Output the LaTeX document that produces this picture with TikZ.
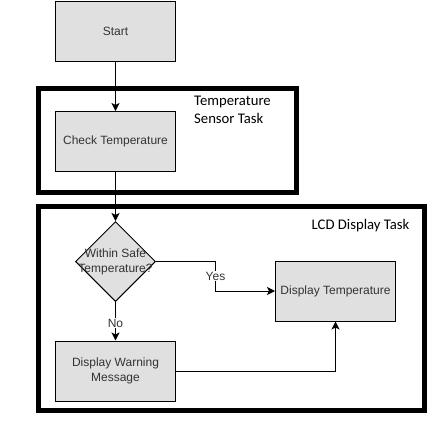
\documentclass[tikz,border=0pt]{standalone}
\usepackage{fontspec}
\setmainfont{Liberation Sans}
\newfontfamily\calibrifont{Carlito}
\usetikzlibrary{shapes.geometric,arrows.meta,positioning}

\definecolor{boxfill}{HTML}{E0E0E0}
\definecolor{boxtext}{HTML}{333333}

\begin{document}
\begin{tikzpicture}[x=1pt,y=-1pt,
        box/.style = {draw, fill=boxfill, text=boxtext, line width=1pt, minimum width=120pt, minimum height=60pt, inner sep=0pt, align=center, font=\fontsize{12}{15}\selectfont},
        decision/.style = {draw, diamond, fill=boxfill, line width=1pt, minimum width=80pt, minimum height=80pt, inner sep=0pt},
        frame/.style = {draw, line width=5pt, inner sep=0pt},
        task/.style = {inner sep=0pt, align=left, font=\calibrifont\fontsize{14.7}{18}\selectfont},
        lbl/.style = {fill=white, text=boxtext, inner sep=1pt, font=\fontsize{12}{15}\selectfont},
        arrow/.style = {line width=1pt, -{Stealth[length=8pt,width=8pt,inset=2pt]}}
        ]
        \useasboundingbox (0,0) rectangle (440,437);

        % task frames
        \node[frame, minimum width=258pt, minimum height=104pt] (sensor) at (167.5,140) {};
        \node[frame, minimum width=386pt, minimum height=204pt] (lcd) at (231.5,308.5) {};
        \node[task, anchor=north west] (sensorlbl) at (194,96) {Temperature\\Sensor Task};
        \node[task, anchor=west] (lcdlbl) at (311.5,226) {LCD Display Task};

        % flow
        \node[box] (start) at (115.5,31) {Start};
        \node[box] (check) at (115.5,141.5) {Check Temperature};
        \node[decision] (safe) at (115.5,261.5) {};
        \node[text=boxtext, align=center, inner sep=0pt, font=\fontsize{12}{15}\selectfont] (safetxt) at (safe.center) {Within Safe\\Temperature?};
        \node[box] (show) at (335.5,291) {Display Temperature};
        \node[box] (warn) at (115.5,371) {Display Warning\\Message};

        \draw[arrow] (start) -- (check);
        \draw[arrow] (check) -- (safe);
        \draw[arrow] (safe.east) -- ++(59.5,0) |- node[lbl, pos=0.25] {Yes} (show.west);
        \draw[arrow] (safe) -- node[lbl, pos=0.55] {No} (warn);
        \draw[arrow] (warn.east) -| (show.south);
    \end{tikzpicture}
\end{document}
